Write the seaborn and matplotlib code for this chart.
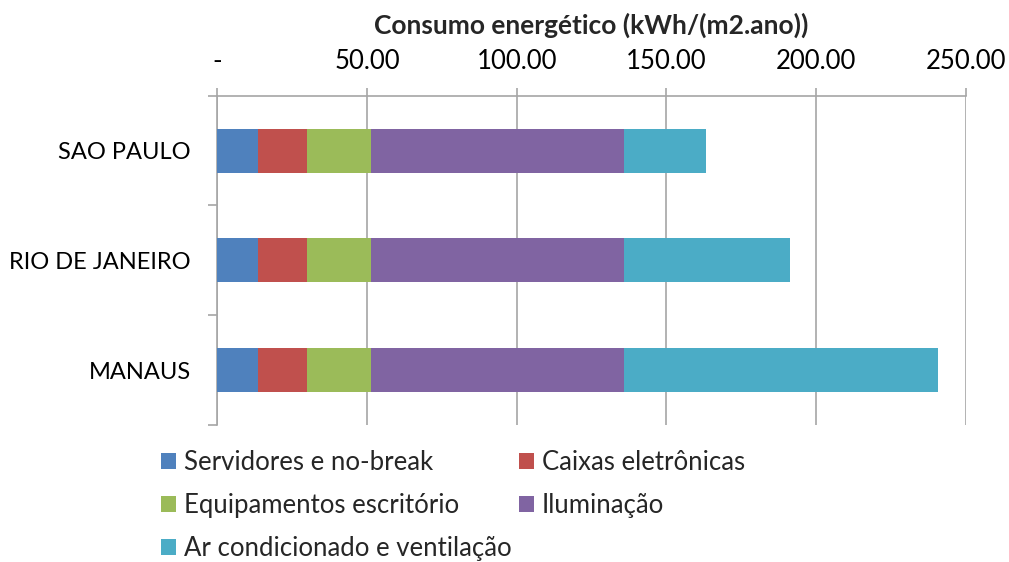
import numpy as np
import matplotlib
matplotlib.use("Agg")
import matplotlib.pyplot as plt
from matplotlib.patches import Patch
from matplotlib.ticker import FixedLocator
import seaborn as sns

# Energy use per end-use, kWh/(m2.ano)
cities = ["SAO PAULO", "RIO DE JANEIRO", "MANAUS"]
servidores = [13.7, 13.7, 13.7]
caixas = [16.2, 16.2, 16.2]
equipamentos = [21.4, 21.4, 21.4]
iluminacao = [84.4, 84.4, 84.4]
ar_condicionado = [27.6, 55.6, 104.9]

series_names = ["Servidores e no-break", "Caixas eletrônicas",
                "Equipamentos escritório", "Iluminação",
                "Ar condicionado e ventilação"]
colors = ["#4F81BD", "#C0504D", "#9BBB59", "#8064A2", "#4BACC6"]
x_ticks = [0, 50, 100, 150, 200, 250]
x_tick_labels = ["-", "50.00", "100.00", "150.00", "200.00", "250.00"]

sns.set_theme(style="white")
plt.rcParams["font.family"] = ["Lato", "DejaVu Sans"]

fig = plt.figure(figsize=(10.09, 5.62), dpi=100)
ax = fig.add_axes([0.2154, 0.2438, 0.7417, 0.5859])

layers = np.array([servidores, caixas, equipamentos, iluminacao, ar_condicionado])
cumulative = np.cumsum(layers, axis=0)

# Stack by drawing cumulative totals, outermost first
for i in range(len(layers) - 1, -1, -1):
    sns.barplot(x=cumulative[i], y=cities, color=colors[i], orient="h",
                width=0.4, saturation=1, linewidth=0, ax=ax, zorder=3)

grid_c = "#a6a6a6"
ax.set_xlim(0, 250)
ax.set_ylim(2.5, -0.5)
ax.xaxis.tick_top()
ax.xaxis.set_label_position("top")
ax.set_xticks(x_ticks)
ax.set_xticklabels(x_tick_labels)
ax.set_xlabel("Consumo energético (kWh/(m2.ano))", fontsize=19,
              fontweight="bold", labelpad=11)
ax.set_ylabel("")
ax.grid(axis="x", color=grid_c, linewidth=1.2, zorder=0)
ax.grid(axis="y", visible=False)
ax.set_axisbelow(True)

for side in ["right", "bottom"]:
    ax.spines[side].set_visible(False)
for side in ["top", "left"]:
    ax.spines[side].set_color(grid_c)
    ax.spines[side].set_linewidth(1.2)

ax.tick_params(axis="x", which="major", direction="out", length=5.6,
               width=1.2, color=grid_c, labelsize=18.5, pad=10,
               top=True, bottom=False, labelcolor="black")
ax.yaxis.set_minor_locator(FixedLocator([-0.5, 0.5, 1.5, 2.5]))
ax.tick_params(axis="y", which="major", length=0, labelsize=17, pad=19,
               labelcolor="black")
ax.tick_params(axis="y", which="minor", direction="out", length=6.5,
               width=1.2, color=grid_c, left=True)

handles = [Patch(facecolor=c, edgecolor="none") for c in colors]
order = [0, 2, 4, 1, 3]
fig.legend([handles[i] for i in order], [series_names[i] for i in order],
           ncol=2, loc="upper left", bbox_to_anchor=(0.1596, 0.199),
           frameon=False, fontsize=18.5, handlelength=0.58, handleheight=0.58,
           handletextpad=0.31, labelspacing=0.70, columnspacing=0.3,
           borderaxespad=0, borderpad=0)

fig.savefig("out.png", dpi=100)
